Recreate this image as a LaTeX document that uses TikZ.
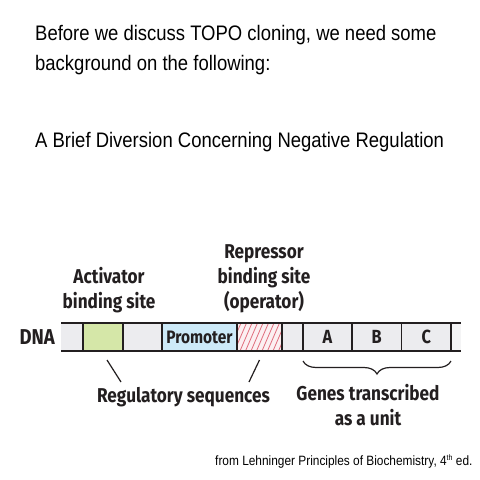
\documentclass[tikz,border=0pt]{standalone}
\usepackage{fontspec}
\setmainfont{Liberation Sans}[FakeStretch=0.88]
\newfontfamily\lblfont{Fira Sans}[FakeStretch=0.86]
\usetikzlibrary{positioning, calc, decorations.pathreplacing}
\definecolor{inkgray}{RGB}{35,31,32}
\definecolor{seggray}{RGB}{236,236,239}
\definecolor{actgreen}{RGB}{213,231,168}
\definecolor{promblue}{RGB}{205,234,248}
\definecolor{operpink}{RGB}{252,240,242}
\definecolor{operred}{RGB}{224,112,127}

\tikzset{
  seg/.style={minimum height=28pt, inner sep=0pt, outer sep=0pt, fill=seggray, text=inkgray},
  lbl/.style={font=\lblfont\bfseries\fontsize{20}{25}\selectfont, text=inkgray, align=center, inner sep=0pt},
  heading/.style={font=\fontsize{21}{30}\selectfont, align=left, inner sep=0pt},
  barline/.style={line width=1.6pt, inkgray},
  divider/.style={line width=1.2pt, inkgray},
  leader/.style={line width=1.2pt, inkgray},
}

\begin{document}
\begin{tikzpicture}[x=1pt, y=-1pt]
  \useasboundingbox[fill=white] (0,0) rectangle (480,480);

  % Headings
  \node[heading, anchor=base west] (intro) at (35,70) {Before we discuss TOPO cloning, we need some\\background on the following:};
  \node[heading, anchor=base west] (topic) at (35,147) {A Brief Diversion Concerning Negative Regulation};

  % DNA segments
  \node[seg, minimum width=22pt, anchor=west] (g1) at (61,337) {};
  \node[seg, minimum width=40pt, fill=actgreen, right=0pt of g1] (act) {};
  \node[seg, minimum width=39pt, right=0pt of act] (g2) {};
  \node[seg, minimum width=75pt, fill=promblue, right=0pt of g2, font=\lblfont\bfseries\fontsize{18}{20}\selectfont] (prom) {Promoter};
  \node[seg, minimum width=45pt, fill=operpink, right=0pt of prom] (oper) {};
  \node[seg, minimum width=21pt, right=0pt of oper] (g3) {};
  \node[seg, minimum width=49pt, right=0pt of g3, font=\lblfont\bfseries\fontsize{19}{20}\selectfont] (A) {A};
  \node[seg, minimum width=49.5pt, right=0pt of A, font=\lblfont\bfseries\fontsize{19}{20}\selectfont] (B) {B};
  \node[seg, minimum width=49.5pt, right=0pt of B, font=\lblfont\bfseries\fontsize{19}{20}\selectfont] (C) {C};
  \node[seg, minimum width=10pt, fill=seggray!60, right=0pt of C] (g4) {};

  % Operator hatching
  \begin{scope}
    \clip (oper.south west) rectangle (oper.north east);
    \foreach \i in {0,...,10}
      \draw[operred, line width=0.8pt] ($(oper.south west)+(\i*5.5-8,0)$) -- ++(12,-28);
  \end{scope}

  % Strand lines and dividers
  \draw[barline] (g1.north west) -- (g4.north east);
  \draw[barline] (g1.south west) -- (g4.south east);
  \foreach \n in {g1,act,g2,prom,oper,g3,A,B,C}
    \draw[divider] (\n.north east) -- (\n.south east);

  \node[lbl, font=\lblfont\bfseries\fontsize{21.5}{25}\selectfont, left=6pt of g1] (dna) {DNA};

  % Labels
  \node[lbl, anchor=base] (actlbl) at (109,308) {Activator\\binding site};
  \node[lbl, anchor=base] (replbl) at (264,308) {Repressor\\binding site\\(operator)};
  \node[lbl, anchor=base] (reg) at (183.5,402) {Regulatory sequences};
  \node[lbl, anchor=base] (genes) at (368,425) {Genes transcribed\\as a unit};

  \coordinate (regL) at (121,382);
  \coordinate (regR) at (249,382);
  \draw[leader] ([shift={(4,9)}]act.south) -- (regL);
  \draw[leader] ([shift={(0,9)}]oper.south) -- (regR);

  \draw[divider, decorate, decoration={brace, mirror, amplitude=13pt}] ([yshift=-10pt]A.south west) -- ([yshift=-10pt]C.south east);

  % Source
  \node[anchor=base west, inner sep=0pt, font=\fontsize{13.5}{18}\selectfont] (src) at (215,465) {from Lehninger Principles of Biochemistry, 4{\fontsize{8}{8}\selectfont\raisebox{5pt}{th}} ed.};
\end{tikzpicture}
\end{document}
